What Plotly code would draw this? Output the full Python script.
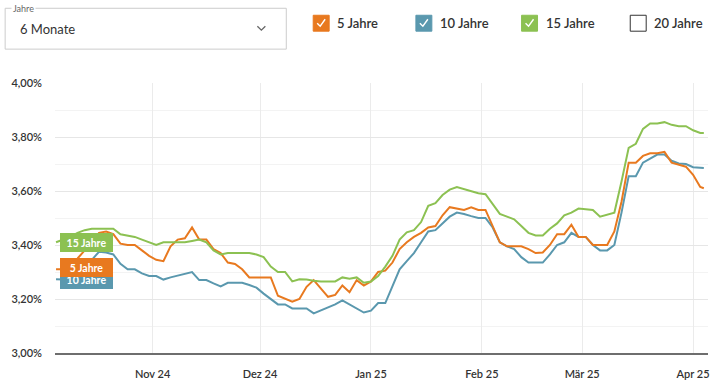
import plotly.graph_objects as go

dates = [
    "2024-10-05", "2024-10-07", "2024-10-09", "2024-10-11", "2024-10-13", "2024-10-15", "2024-10-17", "2024-10-19",
    "2024-10-21", "2024-10-23", "2024-10-25", "2024-10-27", "2024-10-29", "2024-10-31", "2024-11-02", "2024-11-04",
    "2024-11-06", "2024-11-08", "2024-11-10", "2024-11-12", "2024-11-14", "2024-11-16", "2024-11-18", "2024-11-20",
    "2024-11-22", "2024-11-24", "2024-11-26", "2024-11-28", "2024-11-30", "2024-12-02", "2024-12-04", "2024-12-06",
    "2024-12-08", "2024-12-10", "2024-12-12", "2024-12-14", "2024-12-16", "2024-12-18", "2024-12-20", "2024-12-22",
    "2024-12-24", "2024-12-26", "2024-12-28", "2024-12-30", "2025-01-01", "2025-01-03", "2025-01-05", "2025-01-07",
    "2025-01-09", "2025-01-11", "2025-01-13", "2025-01-15", "2025-01-17", "2025-01-19", "2025-01-21", "2025-01-23",
    "2025-01-25", "2025-01-27", "2025-01-29", "2025-01-31", "2025-02-02", "2025-02-04", "2025-02-06", "2025-02-08",
    "2025-02-10", "2025-02-12", "2025-02-14", "2025-02-16", "2025-02-18", "2025-02-20", "2025-02-22", "2025-02-24",
    "2025-02-26", "2025-02-28", "2025-03-02", "2025-03-04", "2025-03-06", "2025-03-08", "2025-03-10", "2025-03-12",
    "2025-03-14", "2025-03-16", "2025-03-18", "2025-03-20", "2025-03-22", "2025-03-24", "2025-03-26", "2025-03-28",
    "2025-03-30", "2025-04-01", "2025-04-03", "2025-04-04",
]

jahre_5 = [
    3.31, 3.31, 3.325, 3.35, 3.38, 3.41, 3.445, 3.45, 3.44, 3.405,
    3.40, 3.40, 3.38, 3.36, 3.345, 3.34, 3.395, 3.42, 3.425, 3.465,
    3.42, 3.42, 3.385, 3.37, 3.335, 3.33, 3.31, 3.28, 3.28, 3.28,
    3.28, 3.212, 3.20, 3.19, 3.20, 3.245, 3.27, 3.24, 3.208, 3.215,
    3.25, 3.225, 3.27, 3.25, 3.265, 3.30, 3.305, 3.335, 3.385, 3.41,
    3.43, 3.445, 3.465, 3.47, 3.51, 3.54, 3.535, 3.53, 3.54, 3.53,
    3.53, 3.47, 3.41, 3.395, 3.395, 3.395, 3.385, 3.37, 3.372, 3.40,
    3.44, 3.44, 3.475, 3.43, 3.43, 3.40, 3.40, 3.40, 3.45, 3.56,
    3.705, 3.705, 3.73, 3.74, 3.74, 3.745, 3.705, 3.697, 3.69, 3.66,
    3.615, 3.61,
]

jahre_10 = [
    3.273, 3.272, 3.28, 3.295, 3.32, 3.345, 3.375, 3.372, 3.365, 3.33,
    3.31, 3.31, 3.295, 3.285, 3.285, 3.272, 3.28, 3.287, 3.295, 3.30,
    3.27, 3.27, 3.258, 3.247, 3.26, 3.26, 3.26, 3.252, 3.242, 3.22,
    3.20, 3.18, 3.18, 3.165, 3.165, 3.165, 3.147, 3.158, 3.17, 3.18,
    3.195, 3.18, 3.163, 3.15, 3.157, 3.185, 3.185, 3.25, 3.31, 3.34,
    3.37, 3.41, 3.45, 3.455, 3.48, 3.505, 3.52, 3.515, 3.507, 3.50,
    3.50, 3.465, 3.41, 3.395, 3.385, 3.355, 3.335, 3.335, 3.335, 3.365,
    3.40, 3.41, 3.445, 3.43, 3.43, 3.40, 3.38, 3.38, 3.40, 3.52,
    3.655, 3.655, 3.705, 3.72, 3.735, 3.735, 3.712, 3.702, 3.70, 3.688,
    3.685, 3.685,
]

jahre_15 = [
    3.41, 3.42, 3.43, 3.445, 3.455, 3.46, 3.46, 3.46, 3.46, 3.44,
    3.435, 3.43, 3.42, 3.41, 3.40, 3.41, 3.41, 3.41, 3.41, 3.415,
    3.42, 3.41, 3.38, 3.365, 3.37, 3.37, 3.37, 3.37, 3.365, 3.355,
    3.32, 3.30, 3.30, 3.265, 3.273, 3.272, 3.268, 3.265, 3.265, 3.265,
    3.28, 3.275, 3.28, 3.26, 3.265, 3.285, 3.32, 3.36, 3.42, 3.447,
    3.455, 3.485, 3.545, 3.555, 3.585, 3.605, 3.615, 3.607, 3.598, 3.592,
    3.588, 3.55, 3.515, 3.505, 3.495, 3.47, 3.445, 3.435, 3.435, 3.46,
    3.48, 3.51, 3.52, 3.535, 3.533, 3.53, 3.505, 3.512, 3.52, 3.635,
    3.76, 3.775, 3.83, 3.85, 3.85, 3.855, 3.845, 3.84, 3.84, 3.825,
    3.815, 3.815,
]

month_ticks = ["2024-11-01", "2024-12-01", "2025-01-01", "2025-02-01", "2025-03-01", "2025-04-01"]
month_labels = ["Nov 24", "Dez 24", "Jan 25", "Feb 25", "Mär 25", "Apr 25"]
y_ticks = [3.0, 3.2, 3.4, 3.6, 3.8, 4.0]
y_labels = ["3,00%", "3,20%", "3,40%", "3,60%", "3,80%", "4,00%"]

series_names = ["5 Jahre", "10 Jahre", "15 Jahre", "20 Jahre"]
ORANGE = "#E8791F"
BLUE = "#5A98AE"
GREEN = "#8CC152"
TXT = "#333333"
FONT = "Lato"

W, H = 713, 383
ML, MR, MT, MB = 55, 3, 83, 29
PW, PH = W - ML - MR, H - MT - MB


def px(x):
    return (x - ML) / PW


def py(y):
    return (H - MB - y) / PH


fig = go.Figure()
series = [(series_names[1], jahre_10, BLUE), (series_names[0], jahre_5, ORANGE), (series_names[2], jahre_15, GREEN)]
for name, vals, col in series:
    fig.add_trace(go.Scatter(x=dates, y=vals, mode="lines", name=name,
                             line=dict(color=col, width=2), showlegend=False,
                             hovertemplate="%{y:.2f}%<extra>" + name + "</extra>"))

annotations = []
shapes = []

# labels at the start of each series
for (name, vals, col), ys in zip(series, [0, 2, 0]):
    annotations.append(dict(x=dates[0], y=vals[0], xref="x", yref="y", text="<b>" + name + "</b>",
                            showarrow=False, xanchor="left", yanchor="middle", xshift=4, yshift=ys,
                            bgcolor=col, borderpad=3, borderwidth=0, width=47, height=13, align="center",
                            font=dict(family=FONT, size=10.5, color="white")))

# dropdown box
shapes.append(dict(type="rect", xref="paper", yref="paper", x0=px(5), x1=px(287), y0=py(49), y1=py(8),
                   line=dict(color="#cccccc", width=1), fillcolor="rgba(0,0,0,0)"))
annotations.append(dict(x=px(11), y=py(8), xref="paper", yref="paper", text="Jahre", showarrow=False,
                        xanchor="left", yanchor="middle", bgcolor="white", borderpad=1,
                        font=dict(family=FONT, size=9, color="#666666")))
annotations.append(dict(x=px(18), y=py(29), xref="paper", yref="paper", text="6 Monate", showarrow=False,
                        xanchor="left", yanchor="middle", font=dict(family=FONT, size=13, color=TXT)))
shapes.append(dict(type="path", xref="paper", yref="paper",
                   path=f"M {px(258)} {py(26)} L {px(262)} {py(30)} L {px(266)} {py(26)}",
                   line=dict(color="#666666", width=1.3)))

# custom checkbox legend
legend_items = [(314, ORANGE, True), (417, BLUE, True), (523, GREEN, True), (632, "white", False)]
for (x0, col, checked), name in zip(legend_items, series_names):
    shapes.append(dict(type="rect", xref="paper", yref="paper", x0=px(x0), x1=px(x0 + 16),
                       y0=py(31), y1=py(15), fillcolor=col,
                       line=dict(color=col if checked else "#333333", width=1)))
    if checked:
        shapes.append(dict(type="path", xref="paper", yref="paper",
                           path=f"M {px(x0 + 4)} {py(23)} L {px(x0 + 7)} {py(26)} L {px(x0 + 12)} {py(19)}",
                           line=dict(color="white", width=1.4)))
    annotations.append(dict(x=px(x0 + 22), y=py(23), xref="paper", yref="paper", text=name,
                            showarrow=False, xanchor="left", yanchor="middle",
                            font=dict(family=FONT, size=13, color=TXT, weight=600)))

fig.update_layout(
    width=W, height=H, autosize=False,
    margin=dict(l=ML, r=MR, t=MT, b=MB, pad=0),
    paper_bgcolor="white", plot_bgcolor="white",
    font=dict(family=FONT, color=TXT),
    annotations=annotations, shapes=shapes,
    hovermode="x",
)
fig.update_xaxes(
    type="date", range=["2024-10-04 17:00", "2025-04-05 04:00"],
    tickvals=month_ticks, ticktext=month_labels, showgrid=True, gridcolor="#ebebeb", gridwidth=1,
    showline=True, linecolor="#6e6e6e", linewidth=2, ticks="", zeroline=False,
    tickfont=dict(family=FONT, size=11, color=TXT, weight=600), ticklabelstandoff=10,
    fixedrange=True,
)
fig.update_yaxes(
    range=[3.0, 4.0], tickvals=y_ticks, ticktext=y_labels, showgrid=True, gridcolor="#e6e6e6",
    gridwidth=1, zeroline=False, showline=False, ticks="",
    minor=dict(dtick=0.1, tick0=3.0, showgrid=True, gridcolor="#f3f3f3", gridwidth=1),
    tickfont=dict(family=FONT, size=11, color=TXT, weight=600), ticklabelstandoff=12,
    fixedrange=True,
)

fig.write_html("out.html", config={"displayModeBar": False},
               post_script="document.body.style.margin='0';")
